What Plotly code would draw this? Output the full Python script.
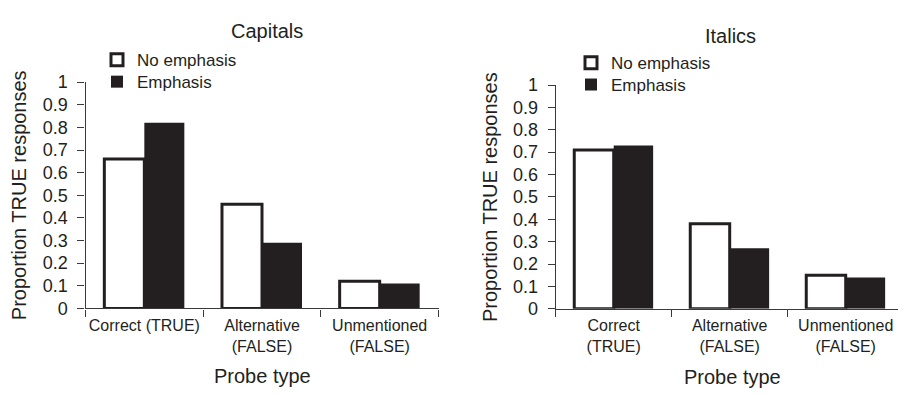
import plotly.graph_objects as go

categories_caps = ["Correct (TRUE)", "Alternative<br>(FALSE)", "Unmentioned<br>(FALSE)"]
categories_ital = ["Correct<br>(TRUE)", "Alternative<br>(FALSE)", "Unmentioned<br>(FALSE)"]
series_names = ["No emphasis", "Emphasis"]
caps_no_emph = [0.66, 0.46, 0.12]
caps_emph = [0.82, 0.29, 0.11]
ital_no_emph = [0.71, 0.38, 0.15]
ital_emph = [0.73, 0.27, 0.14]
y_ticks = [0, 0.1, 0.2, 0.3, 0.4, 0.5, 0.6, 0.7, 0.8, 0.9, 1]
y_ticktext = ["0", "0.1", "0.2", "0.3", "0.4", "0.5", "0.6", "0.7", "0.8", "0.9", "1"]
panel_titles = ["Capitals", "Italics"]
x_title = "Probe type"
y_title = "Proportion TRUE responses"

INK = "#231f20"
AXIS = "#3a3a3a"
FONT = "Liberation Sans, Arial, sans-serif"

W, H = 898, 395


def px(xs):
    return xs / W


def py(ys):
    return 1 - ys / H


fig = go.Figure()


def add_pair(cats, no_vals, emph_vals, xa, ya, leg_a, leg_b):
    fig.add_trace(go.Bar(
        x=cats, y=no_vals, name=series_names[0], xaxis=xa, yaxis=ya, legend=leg_a,
        marker=dict(color="white", line=dict(color=INK, width=3)),
    ))
    fig.add_trace(go.Bar(
        x=cats, y=emph_vals, name=series_names[1], xaxis=xa, yaxis=ya, legend=leg_b,
        marker=dict(color=INK, line=dict(color=INK, width=0)),
    ))


add_pair(categories_caps, caps_no_emph, caps_emph, "x", "y", "legend", "legend3")
add_pair(categories_ital, ital_no_emph, ital_emph, "x2", "y2", "legend2", "legend4")

xcommon = dict(
    type="category", showline=True, linecolor=AXIS, linewidth=1.3,
    ticks="outside", tickson="boundaries", ticklen=7, tickcolor=AXIS, tickwidth=1.3,
    tickfont=dict(family=FONT, size=16, color=INK), showgrid=False, zeroline=False,
    ticklabelstandoff=2, tickangle=0,
)
ycommon = dict(
    range=[0, 1], tickvals=y_ticks, ticktext=y_ticktext, showline=True,
    linecolor=AXIS, linewidth=1.3, ticks="outside", ticklen=7,
    tickcolor=AXIS, tickwidth=1.3, showgrid=False, zeroline=False,
    tickfont=dict(family=FONT, size=18, color=INK), ticklabelstandoff=6,
)


def leg(xs, ys):
    return dict(x=px(xs), y=py(ys), xanchor="left", yanchor="top",
                font=dict(family=FONT, size=17, color=INK), bgcolor="rgba(0,0,0,0)",
                itemclick=False, itemdoubleclick=False)


def ann(text, xs, ys, size, angle=0):
    return dict(text=text, x=px(xs), y=py(ys), xref="paper", yref="paper",
                showarrow=False, textangle=angle,
                font=dict(family=FONT, size=size, color=INK),
                xanchor="center", yanchor="middle")


fig.update_layout(
    width=W, height=H, margin=dict(l=0, r=0, t=0, b=0),
    paper_bgcolor="white", plot_bgcolor="white",
    barmode="group", bargap=0.32, bargroupgap=0,
    font=dict(family=FONT, color=INK), showlegend=True,
    xaxis=dict(xcommon, domain=[px(85.5), px(438.5)], anchor="y", range=[-0.5, 2.5]),
    yaxis=dict(ycommon, domain=[py(314.3), py(76)], anchor="x"),
    xaxis2=dict(xcommon, domain=[px(555.7), 1], anchor="y2", range=[-0.5, -0.5 + 342.3 / 116]),
    yaxis2=dict(ycommon, domain=[py(314.7), py(79)], anchor="x2"),
    legend=leg(97, 58 - 24),
    legend3=leg(97, 81 - 24),
    legend2=leg(571, 61 - 24),
    legend4=leg(571, 84 - 24),
    annotations=[
        ann(panel_titles[0], 267, 22, 20),
        ann(panel_titles[1], 730, 27, 20),
        ann(x_title, 262, 386, 20),
        ann(x_title, 732, 387, 20),
        ann(y_title, 19, 195, 20, -90),
        ann(y_title, 490, 197, 20, -90),
    ],
)

fig.write_html("out.html", config={"displayModeBar": False},
               post_script="document.body.style.margin='0px';")
